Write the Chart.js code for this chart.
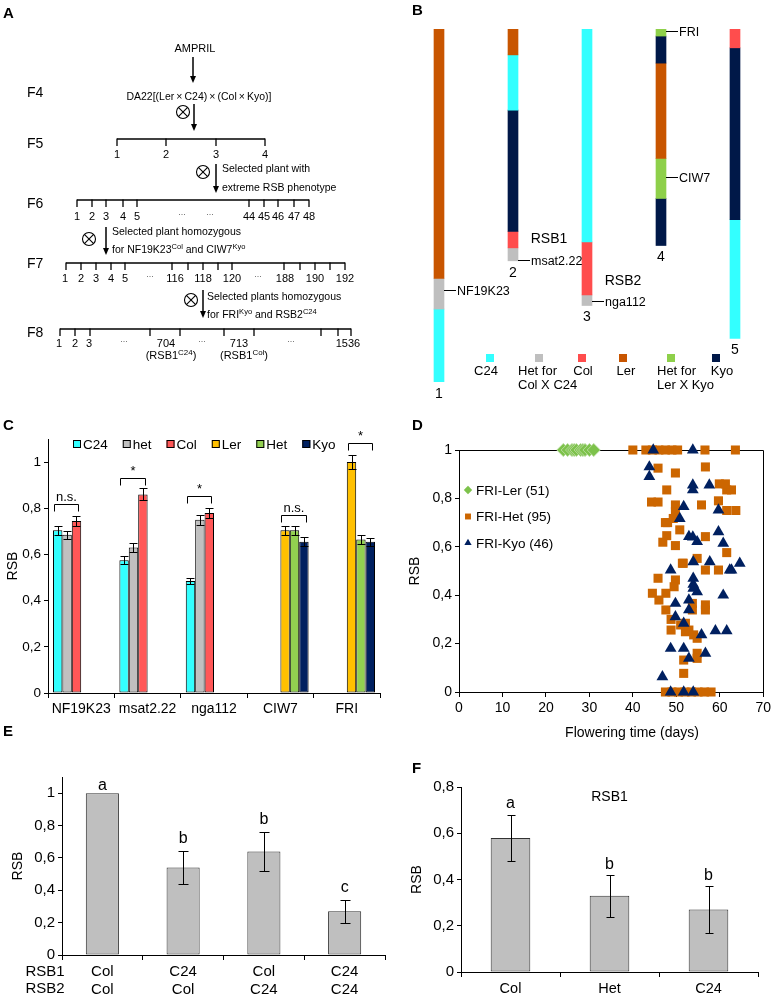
<!DOCTYPE html>
<html lang="en">
<head>
<meta charset="utf-8">
<title>RSB mapping</title>
<script src="https://cdn.jsdelivr.net/npm/chart.js@4/dist/chart.umd.min.js"></script>
<style>
  body { margin: 0; background: #fff; }
  #page { position: relative; width: 774px; height: 996px; overflow: hidden; }
  #page canvas, #page svg { position: absolute; }
</style>
</head>
<body>
<div id="page">
  <canvas id="chartB" width="384" height="400" style="left:390px; top:0px"></canvas>
  <canvas id="chartC" width="390" height="320" style="left:0px; top:400px"></canvas>
  <canvas id="chartD" width="384" height="345" style="left:390px; top:400px"></canvas>
  <canvas id="chartE" width="390" height="251" style="left:0px; top:745px"></canvas>
  <canvas id="chartF" width="384" height="246" style="left:390px; top:750px"></canvas>
  <svg id="scheme" width="774" height="996" style="left:0; top:0" font-family="'Liberation Sans', Arial, sans-serif"></svg>
</div>
<script>
'use strict';

// ---- B: chromosome segments, [genotype index, start Mb, end Mb] ----
const genotypes = ['C24', 'Het for\nCol X C24', 'Col', 'Ler', 'Het for\nLer X Kyo', 'Kyo'];
const chromosomes = ['1', '2', '3', '4', '5'];
const chr1 = [[3, 0, 21.2], [1, 21.2, 23.8], [0, 23.8, 30.0]];
const chr2 = [[3, 0, 2.2], [0, 2.2, 6.9], [5, 6.9, 17.2], [2, 17.2, 18.6], [1, 18.6, 19.7]];
const chr3 = [[0, 0, 18.1], [2, 18.1, 22.6], [1, 22.6, 23.5]];
const chr4 = [[4, 0, 0.6], [5, 0.6, 2.9], [3, 2.9, 11.0], [4, 11.0, 14.4], [5, 14.4, 18.4]];
const chr5 = [[2, 0, 1.6], [5, 1.6, 16.2], [0, 16.2, 26.3]];
const markerNames = ['NF19K23', 'msat2.22', 'nga112', 'FRI', 'CIW7'];
const markerChr = [0, 1, 2, 3, 3];
const markerPos = [22.2, 19.6, 23.1, 0.2, 12.6];
const qtlNames = ['RSB1', 'RSB2'];
const qtlChr = [1, 2];
const qtlPos = [17.9, 21.4];

// ---- C: RSB per marker genotype ----
const markers = ['NF19K23', 'msat2.22', 'nga112', 'CIW7', 'FRI'];
const c24Rsb = [0.705, 0.575, 0.485, null, null];
const c24Err = [0.02, 0.017, 0.015, 0, 0];
const hetColRsb = [0.685, 0.63, 0.75, null, null];
const hetColErr = [0.017, 0.02, 0.022, 0, 0];
const colRsb = [0.745, 0.86, 0.78, null, null];
const colErr = [0.02, 0.026, 0.022, 0, 0];
const lerRsb = [null, null, null, 0.705, 1.0];
const lerErr = [0, 0, 0, 0.02, 0.03];
const hetKyoRsb = [null, null, null, 0.705, 0.665];
const hetKyoErr = [0, 0, 0, 0.02, 0.02];
const kyoRsb = [null, null, null, 0.655, 0.655];
const kyoErr = [0, 0, 0, 0.02, 0.018];
const sigLabels = ['n.s.', '*', '*', 'n.s.', '*'];
const sigAt = [0.82, 0.93, 0.853, 0.77, 1.083];

// ---- D: flowering time (days) vs RSB ----
const lerDays = [24, 25, 26, 26.5, 27, 28, 28.5, 29, 30, 31];
const lerRsbD = [1, 1, 1, 1, 1, 1, 1, 1, 1, 1];
const hetDays = [40, 43, 44.5, 46, 47.5, 49, 50.3, 56.6, 63.6,
  45.8, 49.8, 56.7, 47.8, 59.9, 61.6, 62.7, 61.3,
  44.3, 45.8, 49.8, 49.8, 55.8, 59.7, 61.6, 63.7,
  48, 49.3, 47.5, 50.8, 47.8, 46.9, 49.8, 56.7, 61.6,
  51.6, 54.8, 56.7, 59.7, 51.4,
  45.8, 49.8, 49.5, 44.5, 47.6, 46, 47.6, 48.8, 48.8,
  53.7, 56.7, 53.7, 56.7,
  51, 52.1, 52.1, 52.9, 54, 54.8,
  54.8, 54.8, 51.7, 51.7,
  47.5, 49, 50.5, 52, 53.5, 55, 56.5, 58];
const hetRsbD = [1, 1, 1, 1, 1, 1, 1, 1, 1,
  0.925, 0.905, 0.93, 0.835, 0.86, 0.835, 0.835, 0.86,
  0.785, 0.785, 0.773, 0.745, 0.773, 0.79, 0.75, 0.75,
  0.70, 0.717, 0.70, 0.67, 0.646, 0.619, 0.605, 0.642, 0.576,
  0.532, 0.552, 0.504, 0.504, 0.532,
  0.47, 0.463, 0.435, 0.408, 0.408, 0.38, 0.339, 0.30, 0.256,
  0.366, 0.36, 0.339, 0.339,
  0.277, 0.284, 0.249, 0.256, 0.236, 0.222,
  0.16, 0.139, 0.132, 0.077,
  0, 0, 0, 0, 0, 0, 0, 0];
const kyoDays = [44.7, 53.8, 43.8, 43.8, 53.8, 53.8, 57.6, 51.7, 50.8, 59.7, 59.7,
  52.9, 54.8, 53.8, 60.8, 53.9, 57.7, 48.7, 62.7, 64.6, 62.3,
  53.9, 53.9, 53.9, 54.8, 60.8, 49.8, 52.9, 52.9, 49.8, 51.7,
  55.8, 59, 61.6, 48.7, 51.7, 52.9, 56.7, 46.8, 48.7, 51.7, 53.9];
const kyoRsbD = [1, 1, 0.93, 0.89, 0.855, 0.835, 0.855, 0.766, 0.717, 0.752, 0.662,
  0.642, 0.621, 0.64, 0.614, 0.538, 0.538, 0.504, 0.504, 0.532, 0.504,
  0.47, 0.445, 0.428, 0.414, 0.40, 0.366, 0.38, 0.339, 0.311, 0.284,
  0.236, 0.253, 0.253, 0.18, 0.18, 0.139, 0.16, 0.063, 0, 0, 0];

// ---- E: RSB1 x RSB2 combinations ----
const rsb1Alleles = ['Col', 'C24', 'Col', 'C24'];
const rsb2Alleles = ['Col', 'Col', 'C24', 'C24'];
const eRsb = [1.0, 0.54, 0.64, 0.27];
const eErr = [0, 0.10, 0.12, 0.07];
const eLetters = ['a', 'b', 'b', 'c'];
const eLetterAt = [1.02, 0.69, 0.81, 0.39];

// ---- F: RSB1 alone ----
const fGenotypes = ['Col', 'Het', 'C24'];
const fRsb = [0.58, 0.33, 0.27];
const fErr = [0.10, 0.09, 0.10];
const fLetters = ['a', 'b', 'b'];
const fLetterAt = [0.71, 0.446, 0.398];

const FONT = '"Liberation Sans", Arial, sans-serif';
Chart.defaults.font.family = FONT;
Chart.defaults.color = '#000';
Chart.defaults.animation = false;
Chart.defaults.responsive = false;
Chart.defaults.devicePixelRatio = 1;
Chart.defaults.plugins.legend.display = false;
Chart.defaults.plugins.tooltip.enabled = false;

function fixSize(px) {
  return function (scale) {
    if (scale.isHorizontal()) scale.height = px; else scale.width = px;
  };
}
function comma(v) {
  return String(Math.round(v * 10) / 10).replace('.', ',');
}
function rsbAxis(max, width, titlePad, size) {
  return {
    min: 0, max: max, afterFit: fixSize(width),
    border: { color: '#000' },
    grid: { drawOnChartArea: false, color: '#000', tickLength: 4 },
    ticks: { stepSize: 0.2, includeBounds: false, padding: 3, font: { size: size }, callback: comma },
    title: { display: true, text: 'RSB', font: { size: 14 }, padding: { top: titlePad, bottom: 0 } }
  };
}
function categoryAxis(height, size) {
  return {
    afterFit: fixSize(height),
    border: { color: '#000' },
    grid: { drawOnChartArea: false, color: '#000', tickLength: 5, offset: true },
    ticks: { font: { size: size }, padding: 3, maxRotation: 0, autoSkip: false }
  };
}

const errorBars = {
  id: 'errorBars',
  afterDatasetsDraw(chart, args, opts) {
    const ctx = chart.ctx, y = chart.scales.y;
    ctx.save();
    ctx.strokeStyle = '#000';
    ctx.lineWidth = 1;
    chart.data.datasets.forEach((ds, i) => {
      if (!ds.errors) return;
      chart.getDatasetMeta(i).data.forEach((bar, j) => {
        const v = ds.data[j], e = ds.errors[j];
        if (v == null || !e) return;
        const x = Math.round(bar.x) + 0.5;
        const top = Math.round(y.getPixelForValue(v + e)) + 0.5;
        const bot = Math.round(y.getPixelForValue(v - e)) + 0.5;
        ctx.beginPath();
        ctx.moveTo(x, top); ctx.lineTo(x, bot);
        ctx.moveTo(x - opts.cap, top); ctx.lineTo(x + opts.cap, top);
        ctx.moveTo(x - opts.cap, bot); ctx.lineTo(x + opts.cap, bot);
        ctx.stroke();
      });
    });
    ctx.restore();
  }
};

function lettersPlugin(letters, at, title) {
  return {
    id: 'groupLetters',
    afterDatasetsDraw(chart) {
      const ctx = chart.ctx, y = chart.scales.y, bars = chart.getDatasetMeta(0).data;
      ctx.save();
      ctx.fillStyle = '#000';
      ctx.textAlign = 'center';
      ctx.font = '16px ' + FONT;
      letters.forEach((l, i) => ctx.fillText(l, bars[i].x, y.getPixelForValue(at[i])));
      if (title) {
        const a = chart.chartArea;
        ctx.font = '14px ' + FONT;
        ctx.textBaseline = 'middle';
        ctx.fillText(title, (a.left + a.right) / 2, a.top + 10);
      }
      ctx.restore();
    }
  };
}

// ---------- panel A (crossing scheme) and panel letters ----------
const NS = 'http://www.w3.org/2000/svg';
const svg = document.getElementById('scheme');
function svgEl(tag, attrs, text) {
  const e = document.createElementNS(NS, tag);
  Object.keys(attrs).forEach(k => e.setAttribute(k, attrs[k]));
  if (text != null) e.textContent = text;
  svg.appendChild(e);
  return e;
}
function seg(x1, y1, x2, y2, w) {
  svgEl('line', { x1: x1, y1: y1, x2: x2, y2: y2, stroke: '#000', 'stroke-width': w || 1.3 });
}
function arrow(x, y1, y2) {
  seg(x, y1, x, y2 - 6, 1.5);
  svgEl('polygon', { points: (x - 3) + ',' + (y2 - 7) + ' ' + (x + 3) + ',' + (y2 - 7) + ' ' + x + ',' + y2, fill: '#000' });
}
function selfing(cx, cy) {
  svgEl('circle', { cx: cx, cy: cy, r: 6.5, fill: 'none', stroke: '#000', 'stroke-width': 1.1 });
  seg(cx - 4.6, cy - 4.6, cx + 4.6, cy + 4.6, 1.1);
  seg(cx - 4.6, cy + 4.6, cx + 4.6, cy - 4.6, 1.1);
}
function label(x, y, parts, size, anchor) {
  const t = svgEl('text', { x: x, y: y, 'font-size': size, 'text-anchor': anchor || 'start' });
  let raised = false;
  [].concat(parts).forEach(p => {
    const s = document.createElementNS(NS, 'tspan');
    const sup = typeof p !== 'string';
    s.textContent = sup ? p.sup : p;
    if (sup) s.setAttribute('font-size', size * 0.72);
    const dy = (sup ? -size * 0.4 : 0) + (raised ? size * 0.4 : 0);
    if (dy) s.setAttribute('dy', dy);
    raised = sup;
    t.appendChild(s);
  });
  return t;
}
function row(y, ticks, labels, dots, labelY) {
  seg(ticks[0], y, ticks[ticks.length - 1], y, 1.3);
  ticks.forEach(t => seg(t, y - 0.6, t, y + 7, 1.3));
  labels.forEach(l => label(l[0], labelY, l[1], 11, 'middle'));
  dots.forEach(d => svgEl('text', { x: d, y: labelY - 5, 'font-size': 9, fill: '#666', 'text-anchor': 'middle' }, '...'));
}

[['A', 3, 18], ['B', 412, 15], ['C', 3, 430], ['D', 412, 430], ['E', 3, 736], ['F', 412, 773]]
  .forEach(p => svgEl('text', { x: p[1], y: p[2], 'font-size': 15, 'font-weight': 'bold' }, p[0]));

[['F4', 97], ['F5', 148], ['F6', 208], ['F7', 268], ['F8', 337]]
  .forEach(g => svgEl('text', { x: 27, y: g[1], 'font-size': 14 }, g[0]));

label(195, 52, 'AMPRIL', 11, 'middle');
arrow(193, 57, 83);
svgEl('text', { x: 199, y: 100, 'font-size': 11, 'text-anchor': 'middle', textLength: 145, lengthAdjust: 'spacingAndGlyphs' },
  'DA22[(Ler\u2009\u00d7\u2009C24)\u2009\u00d7\u2009(Col\u2009\u00d7\u2009Kyo)]');
selfing(183, 112);
arrow(194, 104, 131);
row(139, [117, 166, 216, 265], [[117, '1'], [166, '2'], [216, '3'], [265, '4']], [], 158);

selfing(203, 172);
arrow(216, 164, 193);
label(222, 172, 'Selected plant with', 10.5);
label(222, 191, 'extreme RSB phenotype', 10.5);
row(200, [77, 92, 106, 123, 137, 249, 264, 278, 294, 309],
  [[77, '1'], [92, '2'], [106, '3'], [123, '4'], [137, '5'], [249, '44'], [264, '45'], [278, '46'], [294, '47'], [309, '48']],
  [182, 210], 220);

selfing(89, 239);
arrow(106, 227, 255);
label(112, 235, 'Selected plant homozygous', 10.5);
label(112, 253, ['for NF19K23', { sup: 'Col' }, ' and CIW7', { sup: 'Kyo' }], 10.5);
row(263, [66, 81, 96, 111, 125, 172, 188, 203, 218, 232, 284, 300, 315, 330, 345],
  [[65, '1'], [81, '2'], [96, '3'], [111, '4'], [125, '5'], [175, '116'], [203, '118'], [232, '120'],
   [285, '188'], [315, '190'], [345, '192']],
  [150, 258], 282);

selfing(191, 300);
arrow(203, 290, 318);
label(207, 300, 'Selected plants homozygous', 10.5);
label(207, 318, ['for FRI', { sup: 'Kyo' }, ' and RSB2', { sup: 'C24' }], 10.5);
row(329, [60, 75, 90, 150, 180, 224, 254, 321, 338, 351],
  [[59, '1'], [75, '2'], [89, '3'], [166, '704'], [239, '713'], [348, '1536']],
  [124, 202, 291], 347);
label(171, 359, ['(RSB1', { sup: 'C24' }, ')'], 11, 'middle');
label(244, 359, ['(RSB1', { sup: 'Col' }, ')'], 11, 'middle');

// ---------- B: chromosomes ----------
const chrSegments = [chr1, chr2, chr3, chr4, chr5];
const genotypeColors = ['#33FFFF', '#BFBFBF', '#FF4D4D', '#C85500', '#8ED04A', '#001848'];
const segDatasets = [];
const nSeg = Math.max(...chrSegments.map(s => s.length));
for (let k = 0; k < nSeg; k++) {
  segDatasets.push({
    data: chrSegments.map(s => (s[k] ? [s[k][1], s[k][2]] : null)),
    backgroundColor: chrSegments.map(s => (s[k] ? genotypeColors[s[k][0]] : 'rgba(0,0,0,0)')),
    borderWidth: 0,
    grouped: false,
    barThickness: 10
  });
}

const chromosomeLabels = {
  id: 'chromosomeLabels',
  afterDatasetsDraw(chart) {
    const ctx = chart.ctx, y = chart.scales.y;
    const bars = chart.getDatasetMeta(0).data;
    ctx.save();
    ctx.fillStyle = '#000';
    ctx.strokeStyle = '#000';
    ctx.lineWidth = 1;
    ctx.textBaseline = 'middle';
    ctx.font = '14px ' + FONT;
    ctx.textAlign = 'center';
    chrSegments.forEach((segs, i) => {
      ctx.fillText(chromosomes[i], bars[i].x, y.getPixelForValue(segs[segs.length - 1][2]) + 12);
    });
    ctx.font = '12.5px ' + FONT;
    ctx.textAlign = 'left';
    markerNames.forEach((name, i) => {
      const cx = bars[markerChr[i]].x;
      const py = Math.round(y.getPixelForValue(markerPos[i])) + 0.5;
      ctx.beginPath();
      ctx.moveTo(cx + 5, py); ctx.lineTo(cx + 17, py);
      ctx.stroke();
      ctx.fillText(name, cx + 18, py + 1);
    });
    ctx.font = '14px ' + FONT;
    ctx.textAlign = 'center';
    qtlNames.forEach((name, i) => ctx.fillText(name, bars[qtlChr[i]].x + 36, y.getPixelForValue(qtlPos[i])));
    // legend
    const boxX = [100, 149, 192, 233, 281, 326];
    const textX = [96, 128, 193, 236, 267, 332];
    ctx.font = '13px ' + FONT;
    genotypes.forEach((g, i) => {
      ctx.fillStyle = genotypeColors[i];
      ctx.fillRect(boxX[i] - 4, 354, 8, 8);
      ctx.fillStyle = '#000';
      const lines = g.split('\n');
      ctx.textAlign = lines.length > 1 ? 'left' : 'center';
      lines.forEach((t, k) => ctx.fillText(t, textX[i], 371 + k * 14));
    });
    ctx.restore();
  }
};

new Chart(document.getElementById('chartB'), {
  type: 'bar',
  data: { labels: chromosomes, datasets: segDatasets },
  options: {
    layout: { padding: { left: 12, right: 2, top: 29, bottom: 18 } },
    scales: {
      x: { display: false },
      y: { display: false, min: 0, max: 30, reverse: true }
    }
  },
  plugins: [chromosomeLabels]
});

// ---------- C: grouped bars ----------
const cColors = ['#33FFFF', '#C0C0C0', '#FF5757', '#FFC000', '#92D050', '#002060'];

const sigBrackets = {
  id: 'sigBrackets',
  afterDatasetsDraw(chart) {
    const ctx = chart.ctx, y = chart.scales.y;
    ctx.save();
    ctx.strokeStyle = '#000';
    ctx.fillStyle = '#000';
    ctx.lineWidth = 1;
    ctx.textAlign = 'center';
    ctx.font = '13px ' + FONT;
    sigLabels.forEach((lab, j) => {
      const bars = chart.data.datasets
        .map((ds, i) => (ds.data[j] == null ? null : chart.getDatasetMeta(i).data[j]))
        .filter(Boolean);
      const first = bars[0], last = bars[bars.length - 1];
      const x0 = Math.round(first.x - first.width / 2) + 1.5;
      const x1 = Math.round(last.x + last.width / 2) - 2.5;
      const py = Math.round(y.getPixelForValue(sigAt[j])) + 0.5;
      ctx.beginPath();
      ctx.moveTo(x0, py + 7); ctx.lineTo(x0, py); ctx.lineTo(x1, py); ctx.lineTo(x1, py + 7);
      ctx.stroke();
      ctx.fillText(lab, (x0 + x1) / 2, py - 4);
    });
    ctx.restore();
  }
};

const swatchLegend = {
  id: 'swatchLegend',
  afterDraw(chart) {
    const ctx = chart.ctx, yc = 44;
    let x = 73;
    ctx.save();
    ctx.font = '13.5px ' + FONT;
    ctx.textBaseline = 'middle';
    ctx.lineWidth = 1;
    chart.data.datasets.forEach(ds => {
      ctx.fillStyle = ds.backgroundColor;
      ctx.fillRect(x, yc - 4, 8, 8);
      ctx.strokeStyle = '#000';
      ctx.strokeRect(x + 0.5, yc - 3.5, 7, 7);
      ctx.fillStyle = '#000';
      ctx.fillText(ds.label, x + 10, yc + 1);
      x += 10 + ctx.measureText(ds.label).width + 15;
    });
    ctx.restore();
  }
};

new Chart(document.getElementById('chartC'), {
  type: 'bar',
  data: {
    labels: markers,
    datasets: [
      { label: 'C24', data: c24Rsb, errors: c24Err },
      { label: 'het', data: hetColRsb, errors: hetColErr },
      { label: 'Col', data: colRsb, errors: colErr },
      { label: 'Ler', data: lerRsb, errors: lerErr },
      { label: 'Het', data: hetKyoRsb, errors: hetKyoErr },
      { label: 'Kyo', data: kyoRsb, errors: kyoErr }
    ].map((d, i) => Object.assign(d, { backgroundColor: cColors[i] }))
  },
  options: {
    layout: { padding: { left: 0, right: 10, top: 39, bottom: 0 } },
    datasets: { bar: { categoryPercentage: 0.85, barPercentage: 1, borderColor: '#000', borderWidth: 1, borderSkipped: false } },
    scales: { x: categoryAxis(27, 14), y: rsbAxis(1.1, 48, 5, 13.5) },
    plugins: { errorBars: { cap: 4 } }
  },
  plugins: [errorBars, sigBrackets, swatchLegend]
});

// ---------- D: scatter ----------
const pts = (xs, ys) => xs.map((x, i) => ({ x: x, y: ys[i] }));

const plotFrame = {
  id: 'plotFrame',
  beforeDatasetsDraw(chart) {
    const ctx = chart.ctx, a = chart.chartArea;
    const t = Math.round(a.top) + 0.5, r = Math.round(a.right) + 0.5;
    ctx.save();
    ctx.strokeStyle = '#000';
    ctx.lineWidth = 1;
    ctx.beginPath();
    ctx.moveTo(a.left, t); ctx.lineTo(r, t); ctx.lineTo(r, a.bottom);
    ctx.stroke();
    ctx.restore();
  }
};

const pointLegend = {
  id: 'pointLegend',
  afterDraw(chart) {
    const ctx = chart.ctx;
    ctx.save();
    ctx.font = '13.5px ' + FONT;
    ctx.textBaseline = 'middle';
    chart.data.datasets.forEach((ds, i) => {
      const y = 90 + i * 26.5;
      ctx.fillStyle = ds.backgroundColor;
      ctx.strokeStyle = ds.backgroundColor;
      Chart.helpers.drawPoint(ctx, { pointStyle: ds.pointStyle, radius: 4.2, borderWidth: 0, rotation: 0 }, 78, y);
      ctx.fillStyle = '#000';
      ctx.fillText(ds.label, 86, y + 1);
    });
    ctx.font = '14px ' + FONT;
    ctx.textAlign = 'center';
    ctx.fillText('Flowering time (days)', 242, 333);
    ctx.restore();
  }
};

new Chart(document.getElementById('chartD'), {
  type: 'scatter',
  data: {
    datasets: [
      { label: 'FRI-Ler (51)', data: pts(lerDays, lerRsbD), pointStyle: 'rectRot', pointRadius: 6.5,
        backgroundColor: '#7DC24B', borderColor: '#B5DB9A', borderWidth: 1, order: 2, clip: false },
      { label: 'FRI-Het (95)', data: pts(hetDays, hetRsbD), pointStyle: 'rect', pointRadius: 6.4,
        backgroundColor: '#CC6600', borderWidth: 0, order: 1, clip: false },
      { label: 'FRI-Kyo (46)', data: pts(kyoDays, kyoRsbD), pointStyle: 'triangle', pointRadius: 6.8,
        backgroundColor: '#002060', borderWidth: 0, order: 0, clip: false }
    ]
  },
  options: {
    layout: { padding: { left: 0, right: 8, top: 50, bottom: 0 } },
    scales: {
      x: {
        type: 'linear', min: 0, max: 70, afterFit: fixSize(53),
        border: { color: '#000' },
        grid: { drawOnChartArea: false, color: '#000', tickLength: 5 },
        ticks: { stepSize: 10, font: { size: 14 }, padding: 3 }
      },
      y: rsbAxis(1, 69, 17, 14)
    }
  },
  plugins: [plotFrame, pointLegend]
});

// ---------- E: RSB1 x RSB2 ----------
const rowNames = {
  id: 'rowNames',
  afterDraw(chart) {
    const ctx = chart.ctx, top = chart.scales.x.top;
    ctx.save();
    ctx.font = '15px ' + FONT;
    ctx.textAlign = 'center';
    ctx.textBaseline = 'middle';
    ctx.fillStyle = '#000';
    ctx.fillText('RSB1', 45, top + 17);
    ctx.fillText('RSB2', 45, top + 34);
    ctx.restore();
  }
};

new Chart(document.getElementById('chartE'), {
  type: 'bar',
  data: {
    labels: rsb1Alleles.map((a, i) => [a, rsb2Alleles[i]]),
    datasets: [{ data: eRsb, errors: eErr, backgroundColor: '#BFBFBF', borderColor: '#333', borderWidth: 1,
      borderSkipped: false, categoryPercentage: 1, barPercentage: 0.41 }]
  },
  options: {
    layout: { padding: { left: 0, right: 5, top: 32, bottom: 0 } },
    scales: { x: categoryAxis(41, 15), y: rsbAxis(1.1, 62, 10, 15) },
    plugins: { errorBars: { cap: 5 } }
  },
  plugins: [errorBars, lettersPlugin(eLetters, eLetterAt), rowNames]
});

// ---------- F: RSB1 ----------
new Chart(document.getElementById('chartF'), {
  type: 'bar',
  data: {
    labels: fGenotypes,
    datasets: [{ data: fRsb, errors: fErr, backgroundColor: '#BFBFBF', borderColor: '#333', borderWidth: 1,
      borderSkipped: false, categoryPercentage: 1, barPercentage: 0.40 }]
  },
  options: {
    layout: { padding: { left: 0, right: 16, top: 37, bottom: 0 } },
    scales: { x: categoryAxis(24, 14.5), y: rsbAxis(0.8, 71, 19, 15) },
    plugins: { errorBars: { cap: 4 } }
  },
  plugins: [errorBars, lettersPlugin(fLetters, fLetterAt, 'RSB1')]
});
</script>
</body>
</html>
